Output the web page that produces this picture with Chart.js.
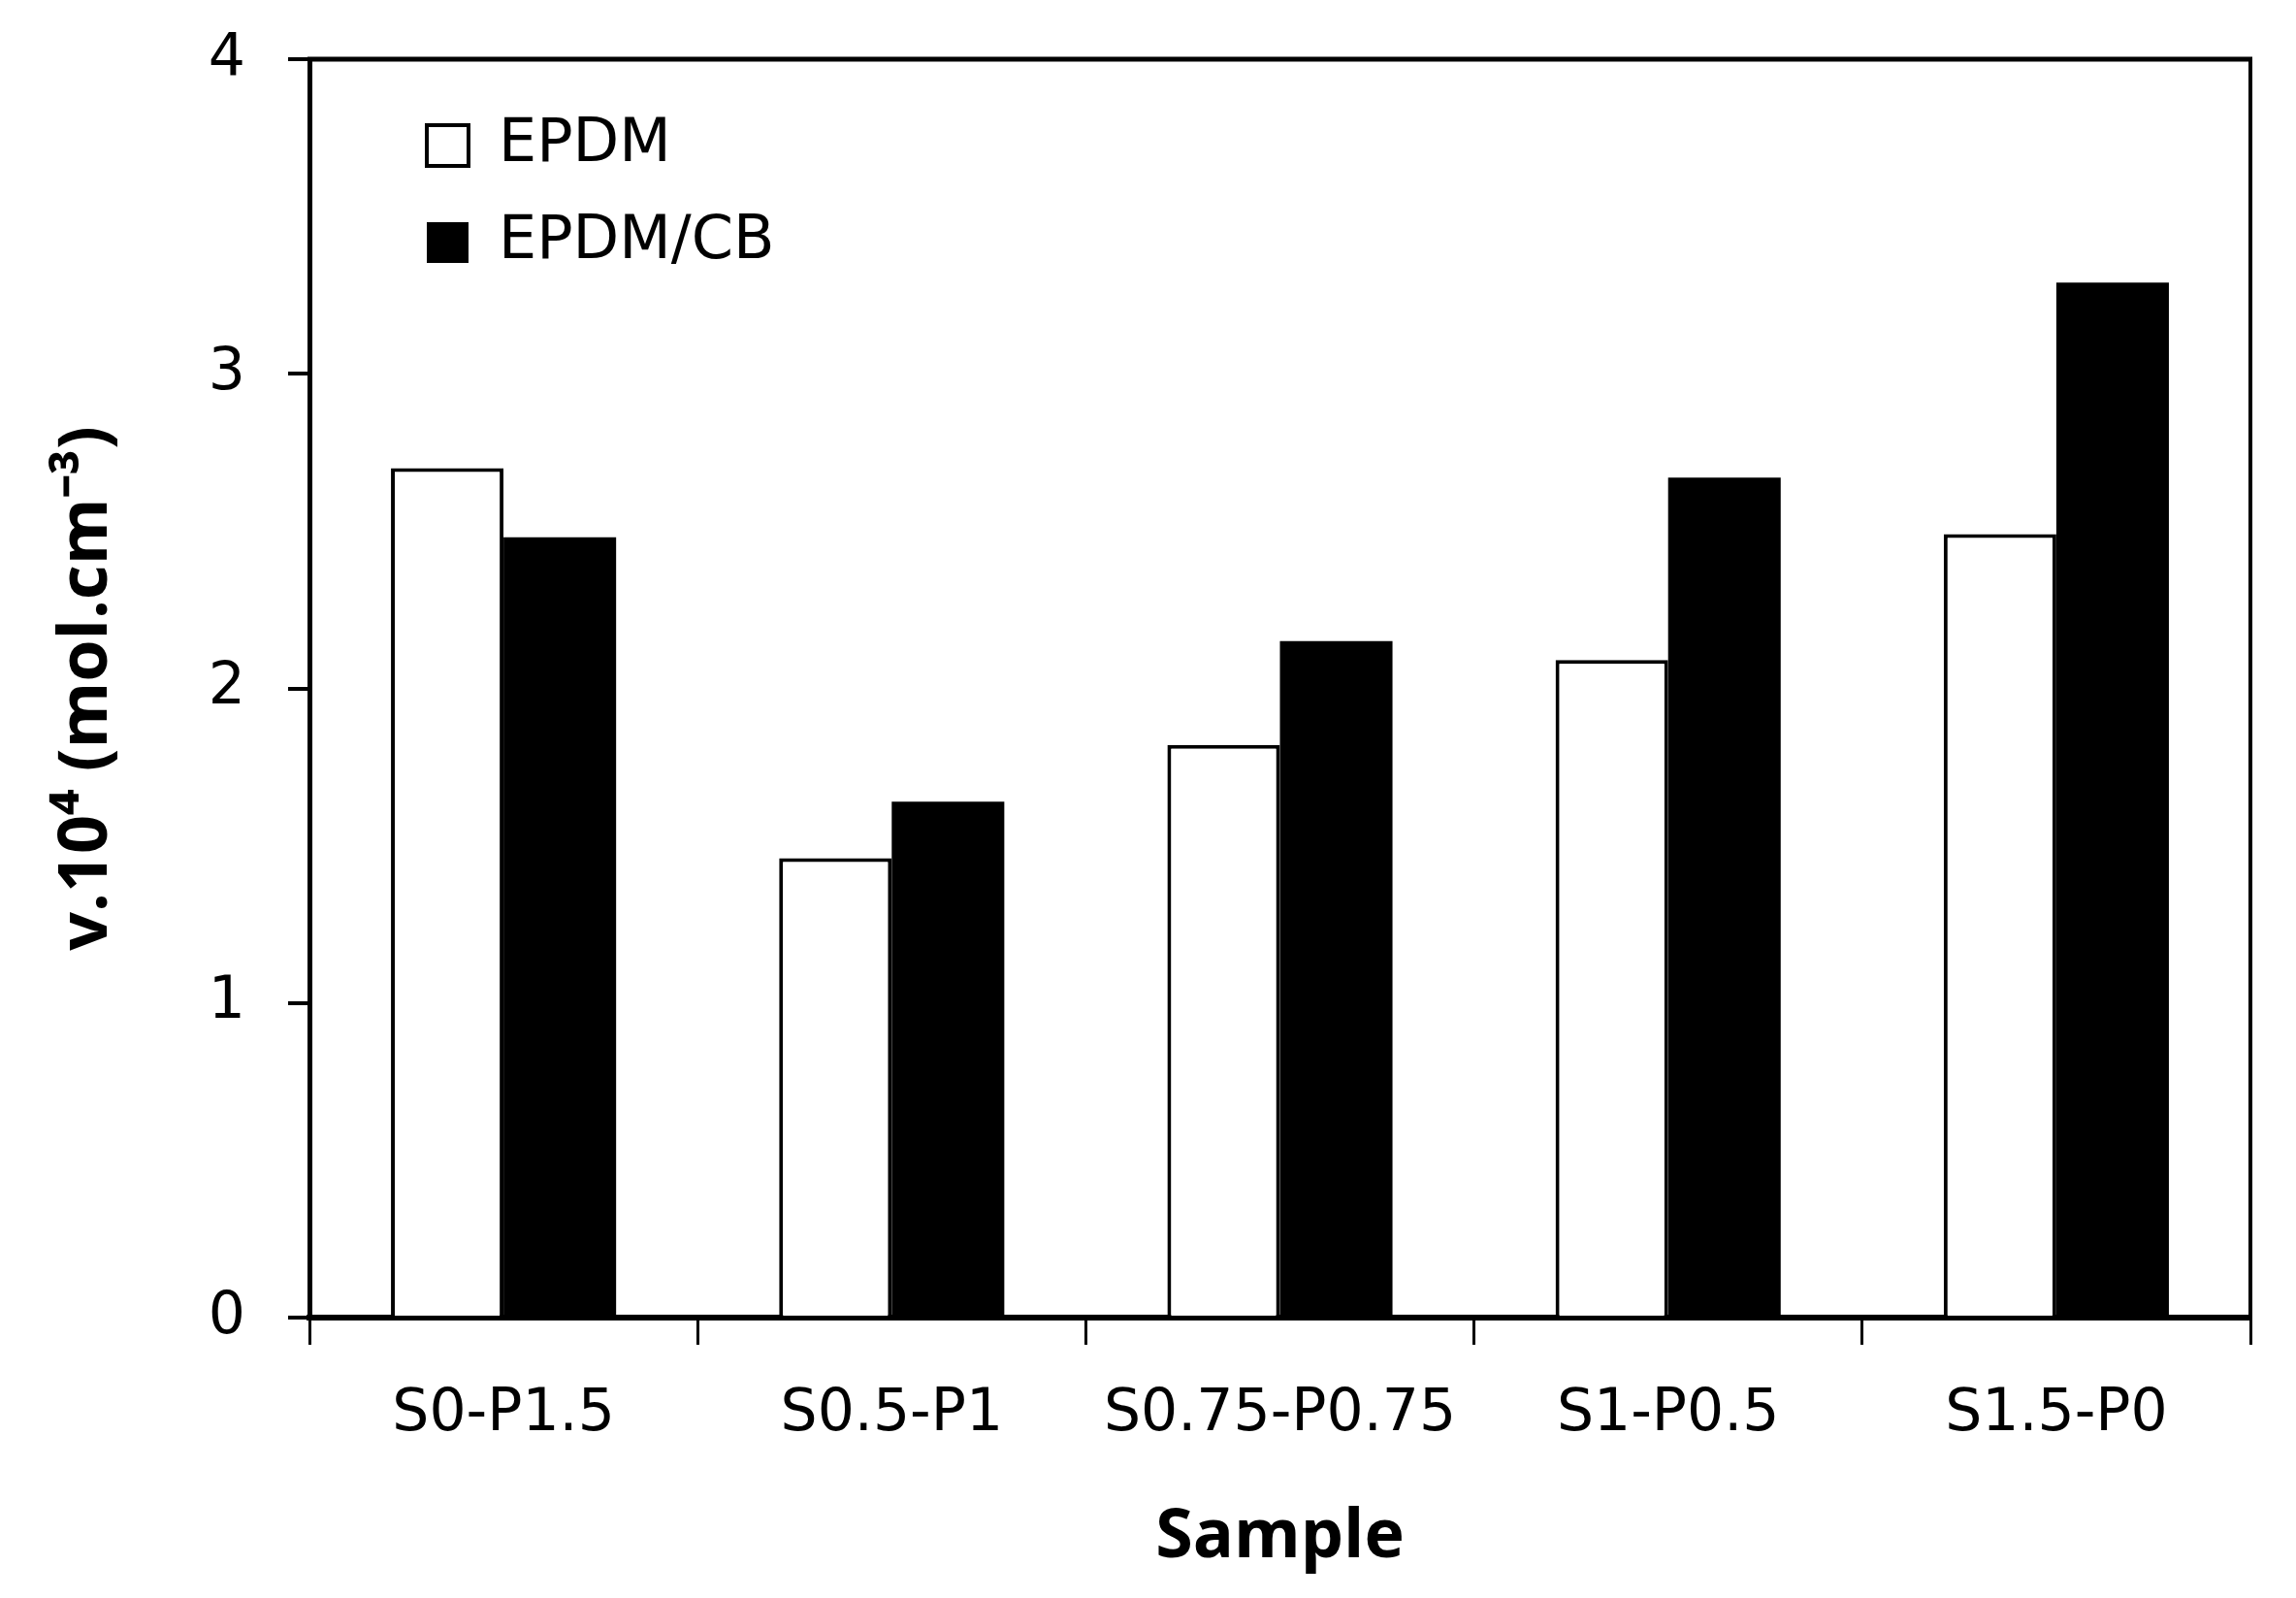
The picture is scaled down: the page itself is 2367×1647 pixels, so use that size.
<!DOCTYPE html>
<html>
<head>
<meta charset="utf-8">
<script src="https://cdn.jsdelivr.net/npm/chart.js@4.4.1/dist/chart.umd.min.js"></script>
<style>
  html, body { margin: 0; padding: 0; background: #ffffff; overflow: hidden; }
  #wrap { width: 2367px; height: 1647px; position: relative; }
</style>
</head>
<body>
<div id="wrap"><canvas id="c"></canvas></div>
<script>
const categories = ["S0-P1.5", "S0.5-P1", "S0.75-P0.75", "S1-P0.5", "S1.5-P0"];
const epdmValues = [2.70, 1.46, 1.82, 2.09, 2.49];
const epdmCbValues = [2.48, 1.64, 2.15, 2.67, 3.29];
const yTicks = [0, 1, 2, 3, 4];
const seriesNames = ["EPDM", "EPDM/CB"];
const xTitle = "Sample";
const yTitle = "v.10\u2074 (mol.cm\u207B\u00B3)";

const framePlugin = {
  id: 'frame',
  afterLayout(chart) {
    const lg = chart.legend;
    if (lg) {
      lg.left = chart.chartArea.left + 83;
      lg.top = chart.chartArea.top + 20;
      lg.bottom = chart.chartArea.bottom;
    }
  },
  afterDatasetsDraw(chart) {
    const a = chart.chartArea;
    const ctx = chart.ctx;
    ctx.save();
    ctx.strokeStyle = '#000';
    ctx.lineWidth = 5;
    ctx.beginPath();
    ctx.moveTo(a.left - 2, a.top);
    ctx.lineTo(a.right + 2, a.top);
    ctx.stroke();
    ctx.lineWidth = 4;
    ctx.beginPath();
    ctx.moveTo(a.right, a.top);
    ctx.lineTo(a.right, a.bottom);
    ctx.stroke();
    ctx.restore();
  }
};

new Chart(document.getElementById('c'), {
  type: 'bar',
  data: {
    labels: categories,
    datasets: [
      {
        label: seriesNames[0],
        data: epdmValues,
        backgroundColor: '#ffffff',
        borderColor: '#000000',
        borderWidth: 4,
        categoryPercentage: 0.58,
        barPercentage: 1.0
      },
      {
        label: seriesNames[1],
        data: epdmCbValues,
        backgroundColor: '#000000',
        borderColor: '#000000',
        borderWidth: 0,
        categoryPercentage: 0.58,
        barPercentage: 1.0
      }
    ]
  },
  options: {
    responsive: true,
    maintainAspectRatio: false,
    devicePixelRatio: 1,
    animation: false,
    layout: { padding: { left: 0, right: 47, top: 61, bottom: 0 } },
    plugins: {
      tooltip: { enabled: false },
      legend: {
        position: 'chartArea',
        align: 'start',
        labels: {
          boxWidth: 43,
          boxHeight: 42,
          padding: 38,
          color: '#000',
          font: { family: 'DejaVu Sans', size: 62 }
        }
      }
    },
    scales: {
      x: {
        offset: true,
        grid: {
          display: true,
          offset: true,
          drawOnChartArea: false,
          drawTicks: true,
          tickLength: 28,
          lineWidth: 3,
          color: '#000'
        },
        border: { display: true, color: '#000', width: 6 },
        ticks: {
          color: '#000',
          padding: 36,
          maxRotation: 0,
          font: { family: 'DejaVu Sans', size: 60 }
        },
        title: {
          display: true,
          text: xTitle,
          color: '#000',
          padding: { top: 0, bottom: 20 },
          font: { family: 'Open Sans', size: 70, weight: 'bold' }
        },
        afterFit(scale) { scale.height = 289; }
      },
      y: {
        min: 0,
        max: 4,
        afterBuildTicks(scale) { scale.ticks = yTicks.map(v => ({ value: v })); },
        grid: {
          display: true,
          drawOnChartArea: false,
          drawTicks: true,
          tickLength: 22,
          lineWidth: 4,
          color: '#000'
        },
        border: { display: true, color: '#000', width: 5 },
        ticks: {
          color: '#000',
          padding: 44,
          font: { family: 'DejaVu Sans', size: 60 }
        },
        title: {
          display: true,
          text: yTitle,
          color: '#000',
          padding: { top: 48, bottom: 0 },
          font: { family: 'Open Sans', size: 70, weight: 'bold' }
        },
        afterFit(scale) {
          scale.width = 319;
          scale.paddingTop = 0;
          scale.paddingBottom = 0;
        }
      }
    }
  },
  plugins: [framePlugin]
});
</script>
</body>
</html>
